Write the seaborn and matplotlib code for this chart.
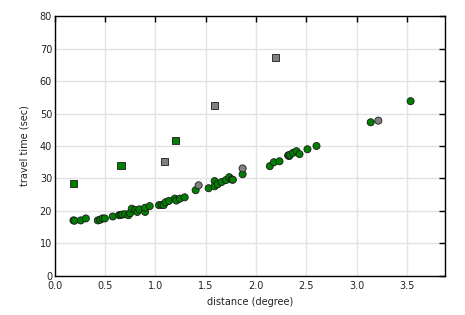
import matplotlib
matplotlib.use("Agg")
import matplotlib.pyplot as plt
import seaborn as sns
import pandas as pd

# green circles
green_x = [0.185, 0.195, 0.258, 0.308, 0.427, 0.450, 0.473, 0.497, 0.576, 0.639, 0.655, 0.671,
           0.698, 0.731, 0.748, 0.765, 0.797, 0.820, 0.840, 0.897, 0.897, 0.943, 1.036, 1.063,
           1.082, 1.102, 1.135, 1.192, 1.208, 1.244, 1.291, 1.400, 1.529, 1.589, 1.589, 1.619,
           1.658, 1.701, 1.734, 1.758, 1.770, 1.867, 2.138, 2.178, 2.234, 2.320, 2.330, 2.337,
           2.369, 2.403, 2.433, 2.512, 2.602, 3.141, 3.538]
green_y = [17.1, 17.0, 17.1, 17.7, 17.1, 17.3, 17.7, 17.7, 18.3, 18.7, 18.8, 18.9,
           19.0, 18.7, 19.3, 20.7, 20.3, 19.7, 20.5, 19.7, 21.0, 21.5, 21.8, 21.9,
           21.8, 22.7, 23.1, 23.8, 23.2, 23.8, 24.2, 26.4, 27.0, 29.2, 27.6, 28.2,
           28.9, 29.5, 30.4, 29.7, 29.6, 31.3, 33.8, 35.0, 35.3, 37.1, 36.9, 37.3,
           37.9, 38.4, 37.5, 39.0, 40.0, 47.3, 53.8]
# gray circles
gray_x = [1.430, 1.867, 3.217]
gray_y = [27.9, 33.1, 47.8]
# green squares
gsq_x = [0.185, 0.658, 1.198]
gsq_y = [28.5, 34.0, 41.8]
# gray squares
ysq_x = [1.088, 1.585, 2.191]
ysq_y = [35.2, 52.4, 67.3]

x_ticks = [0.0, 0.5, 1.0, 1.5, 2.0, 2.5, 3.0, 3.5]
y_ticks = [0, 10, 20, 30, 40, 50, 60, 70, 80]

sns.set_style("white")
plt.rcParams['font.family'] = ['DejaVu Sans']

rows = []
for x, y in zip(green_x, green_y):
    rows.append((x, y, "green", "circle"))
for x, y in zip(gsq_x, gsq_y):
    rows.append((x, y, "green", "square"))
for x, y in zip(gray_x, gray_y):
    rows.append((x, y, "gray", "circle"))
for x, y in zip(ysq_x, ysq_y):
    rows.append((x, y, "gray", "square"))
df = pd.DataFrame(rows, columns=["distance", "time", "col", "shape"])

fig = plt.figure(figsize=(4.65, 3.15), dpi=100)
ax = fig.add_axes([0.118, 0.124, 0.839, 0.825])

sns.scatterplot(data=df, x="distance", y="time", hue="col", style="shape",
                palette={"green": "#007f00", "gray": "#808080"},
                markers={"circle": "o", "square": "s"},
                s=26, edgecolor="#1a1a1a", linewidth=0.6, legend=False, ax=ax, zorder=3)

ax.set_xlim(0, 3.88)
ax.set_ylim(0, 80)
ax.set_xticks(x_ticks)
ax.set_yticks(y_ticks)
ax.set_xticklabels([f"{t:.1f}" for t in x_ticks])
ax.set_yticklabels([str(t) for t in y_ticks])
ax.grid(True, color="#e3e3e3", linewidth=1.0, zorder=0)
ax.set_axisbelow(True)
ax.tick_params(direction="in", length=4, width=1, colors="black", labelsize=7,
               top=True, right=True, labelcolor="#222222")
ax.tick_params(axis="x", pad=4)
ax.tick_params(axis="y", pad=2)
for sp in ax.spines.values():
    sp.set_color("black")
    sp.set_linewidth(1.0)
ax.set_xlabel("distance (degree)", fontsize=7, color="#222222", labelpad=4)
ax.set_ylabel("travel time (sec)", fontsize=7, color="#222222", labelpad=7)

fig.savefig("out.png", dpi=100)
